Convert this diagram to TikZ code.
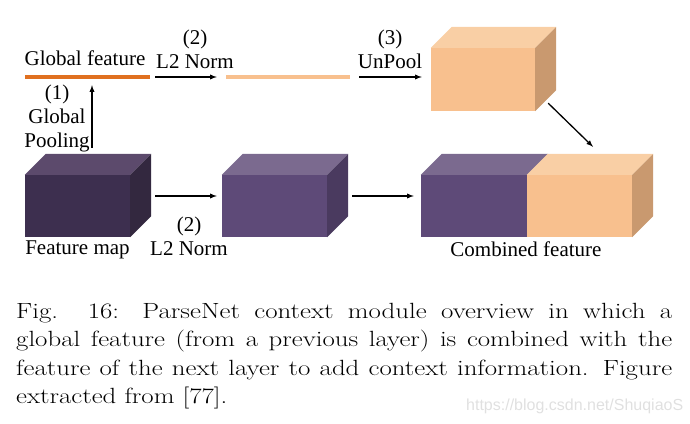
\documentclass[tikz,border=0pt]{standalone}
\usepackage{xcolor}
\usepackage{graphicx}
\usepackage{fontspec}
\usepackage{tikz}
\usetikzlibrary{arrows,positioning}

\newfontfamily\labelfont{Liberation Serif}
\newfontfamily\markfont{Liberation Sans}

\definecolor{mapfront}{HTML}{3D2F4F}
\definecolor{maptop}{HTML}{5C4A6C}
\definecolor{mapside}{HTML}{33283F}
\definecolor{normfront}{HTML}{5E4A78}
\definecolor{normtop}{HTML}{7B6A8F}
\definecolor{normside}{HTML}{4A3A5F}
\definecolor{poolfront}{HTML}{F8C08E}
\definecolor{pooltop}{HTML}{F9CFA5}
\definecolor{poolside}{HTML}{C9996F}
\definecolor{globline}{HTML}{E07020}

% top and side faces of a box drawn behind a front node
\newcommand{\topface}[2]{\fill[#2] (#1.north west) -- ++(21,-21) -- ([shift={(21pt,21pt)}]#1.north east) -- (#1.north east) -- cycle;}
\newcommand{\sideface}[2]{\fill[#2] (#1.north east) -- ++(21,-21) -- ([shift={(21pt,21pt)}]#1.south east) -- (#1.south east) -- cycle;}
% one justified, widened caption line
\newcommand{\capline}[1]{\scalebox{1.22}[1]{\makebox[537.7pt][s]{#1}}}

\begin{document}
\begin{tikzpicture}[x=1pt, y=-1pt,
    face/.style={inner sep=0, minimum width=105pt, minimum height=62pt},
    bar/.style={inner sep=0, minimum height=4pt},
    lbl/.style={font=\labelfont\fontsize{21}{24}\selectfont, align=center, inner sep=0, anchor=base},
    arr/.style={->, >=latex, line width=1.3pt}]
        \useasboundingbox (0,0) rectangle (690,423);

        % feature lines
        \node[bar, minimum width=125pt, fill=globline] (glob) at (87.5,77) {};
        \node[bar, minimum width=124pt, fill=poolfront] (normed) at (288,77) {};

        % boxes
        \node[face, fill=mapfront] (fmap) at (77.5,206) {};
        \topface{fmap}{maptop}
        \sideface{fmap}{mapside}
        \node[face, fill=normfront] (mid) at (274.5,206) {};
        \topface{mid}{normtop}
        \sideface{mid}{normside}
        \node[face, minimum width=104pt, minimum height=63pt, fill=poolfront] (unpool) at (483,79.5) {};
        \topface{unpool}{pooltop}
        \sideface{unpool}{poolside}
        \node[face, minimum width=106pt, fill=normfront] (combl) at (474,206) {};
        \node[face, fill=poolfront] (combr) at (579.5,206) {};
        \topface{combl}{normtop}
        \topface{combr}{pooltop}
        \sideface{combr}{poolside}

        % labels
        \node[lbl] (globtxt) at (85,65) {Global feature};
        \node[lbl] (pooltxt) at (57,147) {(1)\\Global\\Pooling};
        \node[lbl] (normtxt) at (195,68) {(2)\\L2 Norm};
        \node[lbl] (uptxt) at (390,68) {(3)\\UnPool};
        \node[lbl] (normtxt2) at (189,255) {(2)\\L2 Norm};
        \node[lbl] (maptxt) at (77.5,254) {Feature map};
        \node[lbl] (combtxt) at (526,256) {Combined feature};

        % connectors
        \draw[arr] ([xshift=14.5pt, yshift=27pt]fmap.north) -- ([xshift=4.5pt, yshift=-6pt]glob.south);
        \draw[arr, shorten <=5pt, shorten >=9pt] (glob.east) -- (normed.west);
        \draw[arr, shorten <=9pt, shorten >=9pt] (normed.east) -- (normed.east -| unpool.west);
        \draw[arr, shorten <=25pt, shorten >=5pt] ([yshift=10pt]fmap.east) -- ([yshift=10pt]mid.west);
        \draw[arr, shorten <=25pt, shorten >=7pt] ([yshift=10pt]mid.east) -- ([yshift=10pt]combl.west);
        \draw[arr] ([shift={(13pt,8pt)}]unpool.south east) -- ([shift={(13.5pt,28pt)}]combr.north);

        % caption
        \node[anchor=base west, inner sep=0] (caption) at (16,318.3) {\parbox[t]{656pt}{\fontsize{22}{28.4}\selectfont
            \capline{Fig. 16: ParseNet context module overview in which a}\\
            \capline{global feature (from a previous layer) is combined with the}\\
            \capline{feature of the next layer to add context information. Figure}\\
            \scalebox{1.22}[1]{extracted from [77].}}};
        \node[anchor=base west, inner sep=0, text=black!12, font=\markfont\fontsize{16}{16}\selectfont] (mark) at (466,410) {https://blog.csdn.net/ShuqiaoS};
\end{tikzpicture}
\end{document}
